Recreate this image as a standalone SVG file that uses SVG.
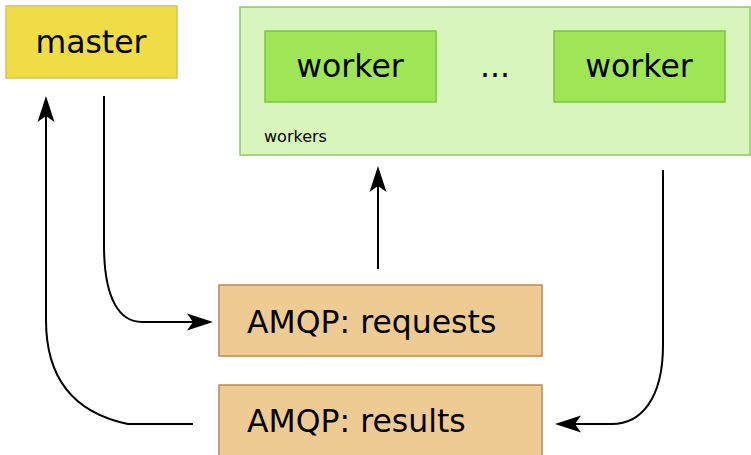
<svg xmlns="http://www.w3.org/2000/svg" width="751" height="455" viewBox="0 0 751 455">
  <defs>
    <!-- swallowtail arrowhead: notch at the path end, tip 20px beyond it -->
    <marker id="arrow" markerWidth="30" markerHeight="20" viewBox="-7 -10 30 20" refX="0" refY="0" orient="auto" markerUnits="userSpaceOnUse" overflow="visible">
      <path d="M20,0 L-6,-8.5 L0,0 L-6,8.5 Z" fill="#000"/>
    </marker>
    <style>
      text { font-family: "DejaVu Sans", sans-serif; fill: #000; }
      .big { font-size: 31.5px; }
      .master { fill: #f0dc44; stroke: #d6c25e; stroke-width: 1.5; }
      .group { fill: #d8f5bb; stroke: #8cc863; stroke-width: 1.5; }
      .worker { fill: #9ee655; stroke: #7ec343; stroke-width: 1.5; }
      .queue { fill: #eecb93; stroke: #b88d4e; stroke-width: 1.5; }
      .conn { fill: none; stroke: #000; stroke-width: 2; }
    </style>
  </defs>

  <g id="master">
    <rect class="master" x="6" y="6" width="171" height="72"/>
    <text class="big" x="91" y="53" text-anchor="middle">master</text>
  </g>

  <g id="workers">
    <rect class="group" x="240" y="7" width="510" height="148"/>
    <text x="264" y="142" font-size="16">workers</text>
    <text class="big" x="495" y="77" text-anchor="middle">...</text>
  </g>

  <g id="worker1">
    <rect class="worker" x="265" y="31" width="171" height="71"/>
    <text class="big" x="350" y="77" text-anchor="middle">worker</text>
  </g>

  <g id="worker2">
    <rect class="worker" x="554" y="31" width="171" height="71"/>
    <text class="big" x="639" y="77" text-anchor="middle">worker</text>
  </g>

  <g id="requests">
    <rect class="queue" x="219" y="285" width="323" height="71"/>
    <text class="big" x="247" y="333">AMQP: requests</text>
  </g>

  <g id="results">
    <rect class="queue" x="219" y="385" width="323" height="80"/>
    <text class="big" x="247" y="432">AMQP: results</text>
  </g>

  <g id="connectors">
    <path class="conn" d="M104,96 L104,245 C104,300 120,322 142,322 L193,322" marker-end="url(#arrow)"/>
    <path class="conn" d="M193,424 L128,424 C70,412 46,375 46,320 L46,116" marker-end="url(#arrow)"/>
    <path class="conn" d="M378,269 L378,186" marker-end="url(#arrow)"/>
    <path class="conn" d="M663,170 L663,345 C663,400 640,424 612,424 L575,424" marker-end="url(#arrow)"/>
  </g>
</svg>
